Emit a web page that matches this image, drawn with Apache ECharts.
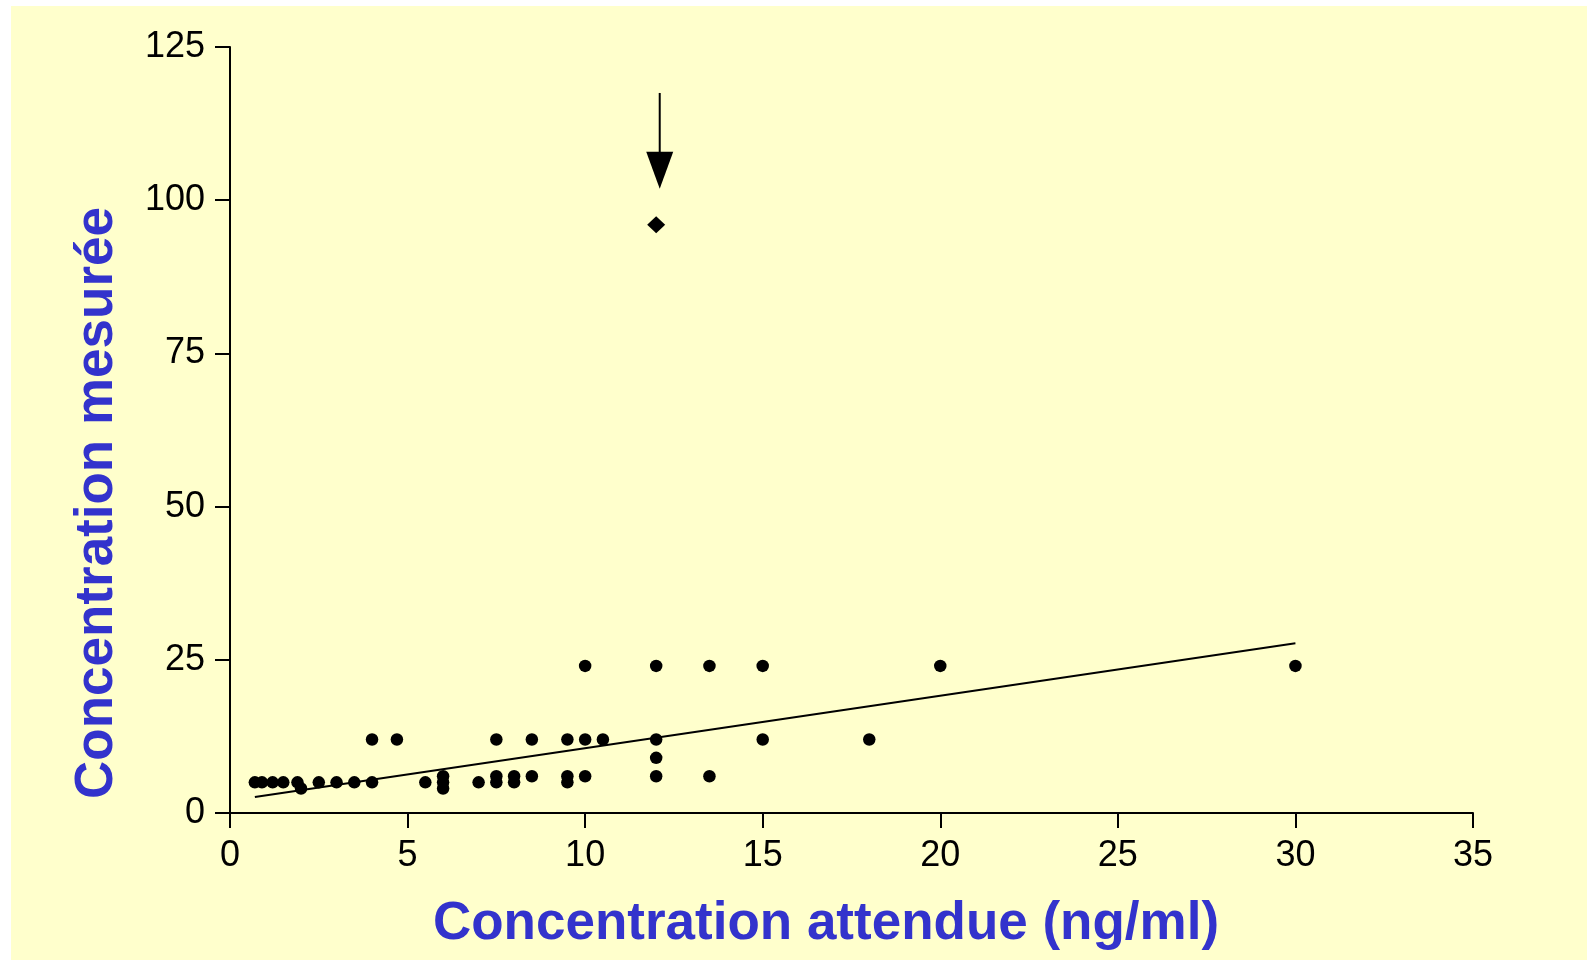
<!DOCTYPE html>
<html>
<head>
<meta charset="utf-8">
<script src="https://cdn.jsdelivr.net/npm/echarts@6/dist/echarts.min.js"></script>
<style>
html,body{margin:0;padding:0;background:#ffffff;}
#bg{position:absolute;left:11px;top:6px;right:0;bottom:0;background:#FFFFCC;}
#chart{position:absolute;left:0;top:0;width:1587px;height:960px;}
</style>
</head>
<body>
<div id="bg"></div>
<div id="chart"></div>
<script>
// Data
const expectedX = [0.7,0.9,1.2,1.5,1.9,2,2.5,3,3.5,4,4,4.7,5.5,6,6,6,7,7.5,7.5,7.5,8,8,8.5,8.5,9.5,9.5,9.5,10,10,10,10.5,12,12,12,12,13.5,13.5,15,15,18,20,30];
const measuredY = [5,5,5,5,5,4,5,5,5,5,12,12,5,6,5,4,5,12,6,5,6,5,12,6,12,6,5,24,12,6,12,24,12,9,6,24,6,24,12,12,24,24];
const outlierX = [12];
const outlierY = [96];
const fitX = [0.7, 30];
const fitY = [2.6, 27.7];
const arrowX = [12.1, 12.1];
const arrowY = [117.5, 104.9];
const xTicks = [0,5,10,15,20,25,30,35];
const yTicks = [0,25,50,75,100,125];
const xTitle = 'Concentration attendue (ng/ml)';
const yTitle = 'Concentration mesurée';

const pts = expectedX.map((x,i)=>[x, measuredY[i]]);
const outPts = outlierX.map((x,i)=>[x, outlierY[i]]);
const fitPts = fitX.map((x,i)=>[x, fitY[i]]);
const arrowPts = arrowX.map((x,i)=>[x, arrowY[i]]);

const FONT = "'Liberation Sans', Arial, sans-serif";
const chart = echarts.init(document.getElementById('chart'), null, {renderer:'canvas'});
const axisCommon = {
  axisLine:{show:true, onZero:false, lineStyle:{color:'#000', width:2}},
  axisTick:{show:true, inside:false, length:15, lineStyle:{color:'#000', width:2}},
  splitLine:{show:false},
  axisLabel:{color:'#000', fontSize:36, fontFamily:FONT}
};
chart.setOption({
  animation:false,
  backgroundColor:'transparent',
  grid:{left:230, right:114, top:47, bottom:147, containLabel:false},
  xAxis:Object.assign({}, axisCommon, {
    type:'value', min:xTicks[0], max:xTicks[xTicks.length-1], interval:5,
    axisLabel:Object.assign({}, axisCommon.axisLabel, {margin:25})
  }),
  yAxis:Object.assign({}, axisCommon, {
    type:'value', min:yTicks[0], max:yTicks[yTicks.length-1], interval:25,
    axisLabel:Object.assign({}, axisCommon.axisLabel, {margin:25})
  }),
  graphic:[
    {type:'text', x:826, y:924, style:{text:xTitle, font:"bold 53px 'Liberation Sans', Arial, sans-serif", fill:'#3333CC', align:'center', verticalAlign:'middle'}},
    {type:'text', x:97, y:503, rotation:Math.PI/2, style:{text:yTitle, font:"bold 53px 'Liberation Sans', Arial, sans-serif", fill:'#3333CC', align:'center', verticalAlign:'middle'}}
  ],
  series:[
    {type:'line', data:fitPts, symbol:'none', lineStyle:{color:'#000', width:2}, z:2},
    {type:'scatter', data:pts, symbol:'circle', symbolSize:12.5, itemStyle:{color:'#000', opacity:1}, z:3},
    {type:'scatter', data:outPts, symbol:'diamond', symbolSize:[18,17], itemStyle:{color:'#000', opacity:1}, z:3},
    {type:'line', data:arrowPts, symbol:'none', lineStyle:{color:'#000', width:2}, z:3},
    {type:'scatter', data:[arrowPts[1]], symbol:'triangle', symbolRotate:180, symbolSize:[27,37], itemStyle:{color:'#000', opacity:1}, z:4}
  ]
});
</script>
</body>
</html>
